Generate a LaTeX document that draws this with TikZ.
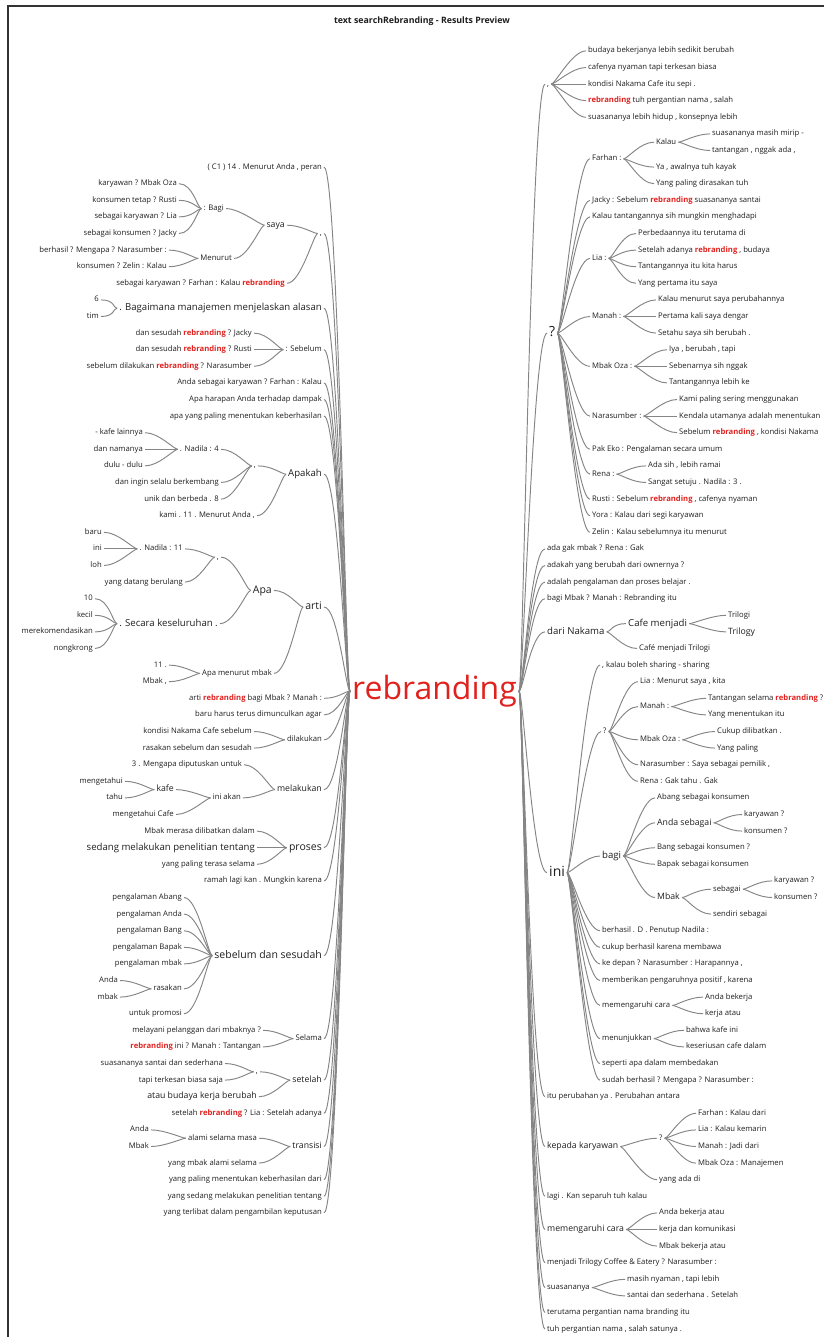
\documentclass[tikz,border=0pt]{standalone}
\usepackage{fontspec}
\setmainfont{Open Sans}
\usepackage{tikz}
\definecolor{rbred}{HTML}{E0221F}
\definecolor{wtext}{HTML}{1E1E1E}
\newcommand{\rbw}{\textcolor{rbred}{\bfseries rebranding}}

\begin{document}
\begin{tikzpicture}[x=1pt, y=-1pt,
    ws/.style={font=\fontsize{7.7}{9}\selectfont, text height=5.6pt, text depth=1.6pt},
    wm/.style={font=\fontsize{8.7}{10}\selectfont, text height=6.3pt, text depth=1.8pt},
    wl/.style={font=\fontsize{9.6}{11}\selectfont, text height=7pt, text depth=2pt},
    wx/.style={font=\fontsize{10.5}{12}\selectfont, text height=7.6pt, text depth=2.2pt},
    wh/.style={font=\fontsize{14}{16}\selectfont, text height=10.2pt, text depth=3pt},
    lt/.style={anchor=east, inner xsep=2pt, inner ysep=0pt, text=wtext},
    rt/.style={anchor=west, inner xsep=2pt, inner ysep=0pt, text=wtext},
    lk/.style={draw=black!48, line width=0.95pt},
    tol/.style={lk, to path={.. controls +(14,0) and +(-4,0) .. (\tikztotarget)}},
    tor/.style={lk, to path={.. controls +(4,0) and +(-14,0) .. (\tikztotarget)}}]
    \useasboundingbox (0,0) rectangle (824,1337);
    \draw[line width=1.2pt, black!80] (8,1337) -- (8,6) -- (824,6);
    \node[font=\bfseries\fontsize{8.8}{10}\selectfont, text=wtext] (title) at (422,21) {text searchRebranding - Results Preview};
    \node[font=\fontsize{32}{34}\selectfont, text=rbred, inner sep=2pt] (root) at (434.5,691) {rebranding};

    \begin{scope}[yshift=-167.1pt, y=-16.6pt]
    \node[lt,ws] (L1) at (324,0) {( C1 ) 14 . Menurut Anda , peran};
    \node[lt,ws] (L2) at (324,4) {,};
    \node[lt,wm] (L2a) at (287,3.5) {saya};
    \node[lt,ws] (L2aa) at (226,2.5) {: Bagi};
    \node[lt,ws] (L2aaa) at (179,1) {karyawan ? Mbak Oza};
    \node[lt,ws] (L2aab) at (179,2) {konsumen tetap ? Rusti};
    \node[lt,ws] (L2aac) at (179,3) {sebagai karyawan ? Lia};
    \node[lt,ws] (L2aad) at (179,4) {sebagai konsumen ? Jacky};
    \node[lt,ws] (L2ab) at (234,5.5) {Menurut};
    \node[lt,ws] (L2aba) at (169,5) {berhasil ? Mengapa ? Narasumber :};
    \node[lt,ws] (L2abb) at (169,6) {konsumen ? Zelin : Kalau};
    \node[lt,ws] (L2b) at (287,7) {sebagai karyawan ? Farhan : Kalau \rbw};
    \node[lt,wl] (L3) at (324,8.5) {. Bagaimana manajemen menjelaskan alasan};
    \node[lt,ws] (L3a) at (101,8) {6};
    \node[lt,ws] (L3b) at (101,9) {tim};
    \node[lt,ws] (L4) at (324,11) {: Sebelum};
    \node[lt,ws] (L4a) at (254,10) {dan sesudah \rbw{} ? Jacky};
    \node[lt,ws] (L4b) at (254,11) {dan sesudah \rbw{} ? Rusti};
    \node[lt,ws] (L4c) at (254,12) {sebelum dilakukan \rbw{} ? Narasumber};
    \node[lt,ws] (L5) at (324,13) {Anda sebagai karyawan ? Farhan : Kalau};
    \node[lt,ws] (L6) at (324,14) {Apa harapan Anda terhadap dampak};
    \node[lt,ws] (L7) at (324,15) {apa yang paling menentukan keberhasilan};
    \node[lt,wl] (L8) at (324,18.5) {Apakah};
    \node[lt,ws] (L8a) at (258,18) {,};
    \node[lt,ws] (L8aa) at (221,17) {. Nadila : 4};
    \node[lt,ws] (L8aaa) at (145,16) {- kafe lainnya};
    \node[lt,ws] (L8aab) at (145,17) {dan namanya};
    \node[lt,ws] (L8aac) at (145,18) {dulu - dulu};
    \node[lt,ws] (L8ab) at (221,19) {dan ingin selalu berkembang};
    \node[lt,ws] (L8ac) at (221,20) {unik dan berbeda . 8};
    \node[lt,ws] (L8b) at (257,21) {kami . 11 . Menurut Anda ,};
    \node[lt,wx] (L9) at (324,26.5) {arti};
    \node[lt,wx] (L9a) at (274,25.5) {Apa};
    \node[lt,ws] (L9aa) at (221,23.5) {,};
    \node[lt,ws] (L9aaa) at (185,23) {. Nadila : 11};
    \node[lt,ws] (L9aaaa) at (104,22) {baru};
    \node[lt,ws] (L9aaab) at (104,23) {ini};
    \node[lt,ws] (L9aaac) at (104,24) {loh};
    \node[lt,ws] (L9aab) at (185,25) {yang datang berulang};
    \node[lt,wl] (L9ab) at (220,27.5) {. Secara keseluruhan .};
    \node[lt,ws] (L9aba) at (95,26) {10};
    \node[lt,ws] (L9abb) at (95,27) {kecil};
    \node[lt,ws] (L9abc) at (95,28) {merekomendasikan};
    \node[lt,ws] (L9abd) at (95,29) {nongkrong};
    \node[lt,ws] (L9b) at (274,30.5) {Apa menurut mbak};
    \node[lt,ws] (L9ba) at (169,30) {11 .};
    \node[lt,ws] (L9bb) at (169,31) {Mbak ,};
    \node[lt,ws] (L10) at (324,32) {arti \rbw{} bagi Mbak ? Manah :};
    \node[lt,ws] (L11) at (324,33) {baru harus terus dimunculkan agar};
    \node[lt,ws] (L12) at (324,34.5) {dilakukan};
    \node[lt,ws] (L12a) at (254,34) {kondisi Nakama Cafe sebelum};
    \node[lt,ws] (L12b) at (254,35) {rasakan sebelum dan sesudah};
    \node[lt,wm] (L13) at (324,37.5) {melakukan};
    \node[lt,ws] (L13a) at (244,36) {3 . Mengapa diputuskan untuk};
    \node[lt,ws] (L13b) at (243,38) {ini akan};
    \node[lt,wm] (L13ba) at (176,37.5) {kafe};
    \node[lt,ws] (L13baa) at (125,37) {mengetahui};
    \node[lt,ws] (L13bab) at (125,38) {tahu};
    \node[lt,ws] (L13bb) at (176,39) {mengetahui Cafe};
    \node[lt,wx] (L14) at (324,41) {proses};
    \node[lt,ws] (L14a) at (257,40) {Mbak merasa dilibatkan dalam};
    \node[lt,wl] (L14b) at (257,41) {sedang melakukan penelitian tentang};
    \node[lt,ws] (L14c) at (257,42) {yang paling terasa selama};
    \node[lt,ws] (L15) at (324,43) {ramah lagi kan . Mungkin karena};
    \node[lt,wx] (L16) at (324,47.5) {sebelum dan sesudah};
    \node[lt,ws] (L16a) at (184,44) {pengalaman Abang};
    \node[lt,ws] (L16b) at (184,45) {pengalaman Anda};
    \node[lt,ws] (L16c) at (184,46) {pengalaman Bang};
    \node[lt,ws] (L16d) at (184,47) {pengalaman Bapak};
    \node[lt,ws] (L16e) at (184,48) {pengalaman mbak};
    \node[lt,ws] (L16f) at (184,49.5) {rasakan};
    \node[lt,ws] (L16fa) at (120,49) {Anda};
    \node[lt,ws] (L16fb) at (120,50) {mbak};
    \node[lt,ws] (L16g) at (184,51) {untuk promosi};
    \node[lt,ws] (L17) at (324,52.5) {Selama};
    \node[lt,ws] (L17a) at (263,52) {melayani pelanggan dari mbaknya ?};
    \node[lt,ws] (L17b) at (263,53) {\rbw{} ini ? Manah : Tantangan};
    \node[lt,wm] (L18) at (324,55) {setelah};
    \node[lt,ws] (L18a) at (260,54.5) {,};
    \node[lt,ws] (L18aa) at (225,54) {suasananya santai dan sederhana};
    \node[lt,ws] (L18ab) at (225,55) {tapi terkesan biasa saja};
    \node[lt,wm] (L18b) at (259,56) {atau budaya kerja berubah};
    \node[lt,ws] (L19) at (324,57) {setelah \rbw{} ? Lia : Setelah adanya};
    \node[lt,wm] (L20) at (324,59) {transisi};
    \node[lt,ws] (L20a) at (259,58.5) {alami selama masa};
    \node[lt,ws] (L20aa) at (151,58) {Anda};
    \node[lt,ws] (L20ab) at (151,59) {Mbak};
    \node[lt,ws] (L20b) at (259,60) {yang mbak alami selama};
    \node[lt,ws] (L21) at (324,61) {yang paling menentukan keberhasilan dari};
    \node[lt,ws] (L22) at (324,62) {yang sedang melakukan penelitian tentang};
    \node[lt,ws] (L23) at (324,63) {yang terlibat dalam pengambilan keputusan};
    \end{scope}

    \begin{scope}[yshift=-50.9pt, y=-16.6pt]
    \node[rt,ws] (R1) at (545,2) {,};
    \node[rt,ws] (R1a) at (586,0) {budaya bekerjanya lebih sedikit berubah};
    \node[rt,ws] (R1b) at (586,1) {cafenya nyaman tapi terkesan biasa};
    \node[rt,ws] (R1c) at (586,2) {kondisi Nakama Cafe itu sepi .};
    \node[rt,ws] (R1d) at (586,3) {\rbw{} tuh pergantian nama , salah};
    \node[rt,ws] (R1e) at (586,4) {suasananya lebih hidup , konsepnya lebih};
    \node[rt,wh] (R2) at (547,17) {?};
    \node[rt,ws] (R2a) at (590,6.5) {Farhan :};
    \node[rt,ws] (R2aa) at (654,5.5) {Kalau};
    \node[rt,ws] (R2aaa) at (710,5) {suasananya masih mirip -};
    \node[rt,ws] (R2aab) at (710,6) {tantangan , nggak ada ,};
    \node[rt,ws] (R2ab) at (654,7) {Ya , awalnya tuh kayak};
    \node[rt,ws] (R2ac) at (654,8) {Yang paling dirasakan tuh};
    \node[rt,ws] (R2b) at (590,9) {Jacky : Sebelum \rbw{} suasananya santai};
    \node[rt,ws] (R2c) at (590,10) {Kalau tantangannya sih mungkin menghadapi};
    \node[rt,ws] (R2d) at (590,12.5) {Lia :};
    \node[rt,ws] (R2da) at (636,11) {Perbedaannya itu terutama di};
    \node[rt,ws] (R2db) at (636,12) {Setelah adanya \rbw{} , budaya};
    \node[rt,ws] (R2dc) at (636,13) {Tantangannya itu kita harus};
    \node[rt,ws] (R2dd) at (636,14) {Yang pertama itu saya};
    \node[rt,ws] (R2e) at (590,16) {Manah :};
    \node[rt,ws] (R2ea) at (656,15) {Kalau menurut saya perubahannya};
    \node[rt,ws] (R2eb) at (656,16) {Pertama kali saya dengar};
    \node[rt,ws] (R2ec) at (656,17) {Setahu saya sih berubah .};
    \node[rt,ws] (R2f) at (590,19) {Mbak Oza :};
    \node[rt,ws] (R2fa) at (667,18) {Iya , berubah , tapi};
    \node[rt,ws] (R2fb) at (667,19) {Sebenarnya sih nggak};
    \node[rt,ws] (R2fc) at (667,20) {Tantangannya lebih ke};
    \node[rt,ws] (R2g) at (590,22) {Narasumber :};
    \node[rt,ws] (R2ga) at (677,21) {Kami paling sering menggunakan};
    \node[rt,ws] (R2gb) at (677,22) {Kendala utamanya adalah menentukan};
    \node[rt,ws] (R2gc) at (677,23) {Sebelum \rbw{} , kondisi Nakama};
    \node[rt,ws] (R2h) at (590,24) {Pak Eko : Pengalaman secara umum};
    \node[rt,ws] (R2i) at (590,25.5) {Rena :};
    \node[rt,ws] (R2ia) at (646,25) {Ada sih , lebih ramai};
    \node[rt,ws] (R2ib) at (646,26) {Sangat setuju . Nadila : 3 .};
    \node[rt,ws] (R2j) at (590,27) {Rusti : Sebelum \rbw{} , cafenya nyaman};
    \node[rt,ws] (R2k) at (590,28) {Yora : Kalau dari segi karyawan};
    \node[rt,ws] (R2l) at (590,29) {Zelin : Kalau sebelumnya itu menurut};
    \node[rt,ws] (R3) at (545,30) {ada gak mbak ? Rena : Gak};
    \node[rt,ws] (R4) at (545,31) {adakah yang berubah dari ownernya ?};
    \node[rt,ws] (R5) at (545,32) {adalah pengalaman dan proses belajar .};
    \node[rt,ws] (R6) at (545,33) {bagi Mbak ? Manah : Rebranding itu};
    \node[rt,wl] (R7) at (545,35) {dari Nakama};
    \node[rt,wl] (R7a) at (626,34.5) {Cafe menjadi};
    \node[rt,ws] (R7aa) at (726,34) {Trilogi};
    \node[rt,wm] (R7ab) at (726,35) {Trilogy};
    \node[rt,ws] (R7b) at (637,36) {Café menjadi Trilogi};
    \node[rt,wh] (R8) at (547,49.5) {ini};
    \node[rt,ws] (R8a) at (600,37) {, kalau boleh sharing - sharing};
    \node[rt,ws] (R8b) at (601,41) {?};
    \node[rt,ws] (R8ba) at (638,38) {Lia : Menurut saya , kita};
    \node[rt,ws] (R8bb) at (638,39.5) {Manah :};
    \node[rt,ws] (R8bba) at (706,39) {Tantangan selama \rbw{} ?};
    \node[rt,ws] (R8bbb) at (706,40) {Yang menentukan itu};
    \node[rt,ws] (R8bc) at (638,41.5) {Mbak Oza :};
    \node[rt,ws] (R8bca) at (715,41) {Cukup dilibatkan .};
    \node[rt,ws] (R8bcb) at (715,42) {Yang paling};
    \node[rt,ws] (R8bd) at (638,43) {Narasumber : Saya sebagai pemilik ,};
    \node[rt,ws] (R8be) at (638,44) {Rena : Gak tahu . Gak};
    \node[rt,wl] (R8c) at (600,48.5) {bagi};
    \node[rt,ws] (R8ca) at (655,45) {Abang sebagai konsumen};
    \node[rt,wm] (R8cb) at (655,46.5) {Anda sebagai};
    \node[rt,ws] (R8cba) at (742,46) {karyawan ?};
    \node[rt,ws] (R8cbb) at (742,47) {konsumen ?};
    \node[rt,ws] (R8cc) at (655,48) {Bang sebagai konsumen ?};
    \node[rt,ws] (R8cd) at (655,49) {Bapak sebagai konsumen};
    \node[rt,wm] (R8ce) at (655,51) {Mbak};
    \node[rt,ws] (R8cea) at (711,50.5) {sebagai};
    \node[rt,ws] (R8ceaa) at (772,50) {karyawan ?};
    \node[rt,ws] (R8ceab) at (772,51) {konsumen ?};
    \node[rt,ws] (R8ceb) at (711,52) {sendiri sebagai};
    \node[rt,ws] (R8d) at (600,53) {berhasil . D . Penutup Nadila :};
    \node[rt,ws] (R8e) at (600,54) {cukup berhasil karena membawa};
    \node[rt,ws] (R8f) at (600,55) {ke depan ? Narasumber : Harapannya ,};
    \node[rt,ws] (R8g) at (600,56) {memberikan pengaruhnya positif , karena};
    \node[rt,ws] (R8h) at (600,57.5) {memengaruhi cara};
    \node[rt,ws] (R8ha) at (703,57) {Anda bekerja};
    \node[rt,ws] (R8hb) at (703,58) {kerja atau};
    \node[rt,ws] (R8i) at (600,59.5) {menunjukkan};
    \node[rt,ws] (R8ia) at (684,59) {bahwa kafe ini};
    \node[rt,ws] (R8ib) at (684,60) {keseriusan cafe dalam};
    \node[rt,ws] (R8j) at (600,61) {seperti apa dalam membedakan};
    \node[rt,ws] (R8k) at (600,62) {sudah berhasil ? Mengapa ? Narasumber :};
    \node[rt,ws] (R9) at (545,63) {itu perubahan ya . Perubahan antara};
    \node[rt,wm] (R10) at (545,66) {kepada karyawan};
    \node[rt,ws] (R10a) at (657,65.5) {?};
    \node[rt,ws] (R10aa) at (696,64) {Farhan : Kalau dari};
    \node[rt,ws] (R10ab) at (696,65) {Lia : Kalau kemarin};
    \node[rt,ws] (R10ac) at (696,66) {Manah : Jadi dari};
    \node[rt,ws] (R10ad) at (696,67) {Mbak Oza : Manajemen};
    \node[rt,ws] (R10b) at (657,68) {yang ada di};
    \node[rt,ws] (R11) at (545,69) {lagi . Kan separuh tuh kalau};
    \node[rt,wm] (R12) at (545,71) {memengaruhi cara};
    \node[rt,ws] (R12a) at (657,70) {Anda bekerja atau};
    \node[rt,ws] (R12b) at (657,71) {kerja dan komunikasi};
    \node[rt,ws] (R12c) at (657,72) {Mbak bekerja atau};
    \node[rt,ws] (R13) at (545,73) {menjadi Trilogy Coffee \& Eatery ? Narasumber :};
    \node[rt,ws] (R14) at (545,74.5) {suasananya};
    \node[rt,ws] (R14a) at (625,74) {masih nyaman , tapi lebih};
    \node[rt,ws] (R14b) at (625,75) {santai dan sederhana . Setelah};
    \node[rt,ws] (R15) at (545,76) {terutama pergantian nama branding itu};
    \node[rt,ws] (R16) at (545,77) {tuh pergantian nama , salah satunya .};
    \end{scope}

    \foreach \nd in {L1,L2,L3,L4,L5,L6,L7,L8,L9,L10,L11,L12,L13,L14,L15,L16,L17,L18,L19,L20,L21,L22,L23}
        \draw[tol] (\nd.east) to (root.west);
    \foreach \nd in {L2a,L2b} \draw[tol] (\nd.east) to (L2.west);
    \foreach \nd in {L2aa,L2ab} \draw[tol] (\nd.east) to (L2a.west);
    \foreach \nd in {L2aaa,L2aab,L2aac,L2aad} \draw[tol] (\nd.east) to (L2aa.west);
    \foreach \nd in {L2aba,L2abb} \draw[tol] (\nd.east) to (L2ab.west);
    \foreach \nd in {L3a,L3b} \draw[tol] (\nd.east) to (L3.west);
    \foreach \nd in {L4a,L4b,L4c} \draw[tol] (\nd.east) to (L4.west);
    \foreach \nd in {L8a,L8b} \draw[tol] (\nd.east) to (L8.west);
    \foreach \nd in {L8aa,L8ab,L8ac} \draw[tol] (\nd.east) to (L8a.west);
    \foreach \nd in {L8aaa,L8aab,L8aac} \draw[tol] (\nd.east) to (L8aa.west);
    \foreach \nd in {L9a,L9b} \draw[tol] (\nd.east) to (L9.west);
    \foreach \nd in {L9aa,L9ab} \draw[tol] (\nd.east) to (L9a.west);
    \foreach \nd in {L9aaa,L9aab} \draw[tol] (\nd.east) to (L9aa.west);
    \foreach \nd in {L9aaaa,L9aaab,L9aaac} \draw[tol] (\nd.east) to (L9aaa.west);
    \foreach \nd in {L9aba,L9abb,L9abc,L9abd} \draw[tol] (\nd.east) to (L9ab.west);
    \foreach \nd in {L9ba,L9bb} \draw[tol] (\nd.east) to (L9b.west);
    \foreach \nd in {L12a,L12b} \draw[tol] (\nd.east) to (L12.west);
    \foreach \nd in {L13a,L13b} \draw[tol] (\nd.east) to (L13.west);
    \foreach \nd in {L13ba,L13bb} \draw[tol] (\nd.east) to (L13b.west);
    \foreach \nd in {L13baa,L13bab} \draw[tol] (\nd.east) to (L13ba.west);
    \foreach \nd in {L14a,L14b,L14c} \draw[tol] (\nd.east) to (L14.west);
    \foreach \nd in {L16a,L16b,L16c,L16d,L16e,L16f,L16g} \draw[tol] (\nd.east) to (L16.west);
    \foreach \nd in {L16fa,L16fb} \draw[tol] (\nd.east) to (L16f.west);
    \foreach \nd in {L17a,L17b} \draw[tol] (\nd.east) to (L17.west);
    \foreach \nd in {L18a,L18b} \draw[tol] (\nd.east) to (L18.west);
    \foreach \nd in {L18aa,L18ab} \draw[tol] (\nd.east) to (L18a.west);
    \foreach \nd in {L20a,L20b} \draw[tol] (\nd.east) to (L20.west);
    \foreach \nd in {L20aa,L20ab} \draw[tol] (\nd.east) to (L20a.west);

    \foreach \nd in {R1,R2,R3,R4,R5,R6,R7,R8,R9,R10,R11,R12,R13,R14,R15,R16}
        \draw[tor] (root.east) to (\nd.west);
    \foreach \nd in {R1a,R1b,R1c,R1d,R1e} \draw[tor] (R1.east) to (\nd.west);
    \foreach \nd in {R2a,R2b,R2c,R2d,R2e,R2f,R2g,R2h,R2i,R2j,R2k,R2l} \draw[tor] (R2.east) to (\nd.west);
    \foreach \nd in {R2aa,R2ab,R2ac} \draw[tor] (R2a.east) to (\nd.west);
    \foreach \nd in {R2aaa,R2aab} \draw[tor] (R2aa.east) to (\nd.west);
    \foreach \nd in {R2da,R2db,R2dc,R2dd} \draw[tor] (R2d.east) to (\nd.west);
    \foreach \nd in {R2ea,R2eb,R2ec} \draw[tor] (R2e.east) to (\nd.west);
    \foreach \nd in {R2fa,R2fb,R2fc} \draw[tor] (R2f.east) to (\nd.west);
    \foreach \nd in {R2ga,R2gb,R2gc} \draw[tor] (R2g.east) to (\nd.west);
    \foreach \nd in {R2ia,R2ib} \draw[tor] (R2i.east) to (\nd.west);
    \foreach \nd in {R7a,R7b} \draw[tor] (R7.east) to (\nd.west);
    \foreach \nd in {R7aa,R7ab} \draw[tor] (R7a.east) to (\nd.west);
    \foreach \nd in {R8a,R8b,R8c,R8d,R8e,R8f,R8g,R8h,R8i,R8j,R8k} \draw[tor] (R8.east) to (\nd.west);
    \foreach \nd in {R8ba,R8bb,R8bc,R8bd,R8be} \draw[tor] (R8b.east) to (\nd.west);
    \foreach \nd in {R8bba,R8bbb} \draw[tor] (R8bb.east) to (\nd.west);
    \foreach \nd in {R8bca,R8bcb} \draw[tor] (R8bc.east) to (\nd.west);
    \foreach \nd in {R8ca,R8cb,R8cc,R8cd,R8ce} \draw[tor] (R8c.east) to (\nd.west);
    \foreach \nd in {R8cba,R8cbb} \draw[tor] (R8cb.east) to (\nd.west);
    \foreach \nd in {R8cea,R8ceb} \draw[tor] (R8ce.east) to (\nd.west);
    \foreach \nd in {R8ceaa,R8ceab} \draw[tor] (R8cea.east) to (\nd.west);
    \foreach \nd in {R8ha,R8hb} \draw[tor] (R8h.east) to (\nd.west);
    \foreach \nd in {R8ia,R8ib} \draw[tor] (R8i.east) to (\nd.west);
    \foreach \nd in {R10a,R10b} \draw[tor] (R10.east) to (\nd.west);
    \foreach \nd in {R10aa,R10ab,R10ac,R10ad} \draw[tor] (R10a.east) to (\nd.west);
    \foreach \nd in {R12a,R12b,R12c} \draw[tor] (R12.east) to (\nd.west);
    \foreach \nd in {R14a,R14b} \draw[tor] (R14.east) to (\nd.west);
\end{tikzpicture}
\end{document}
